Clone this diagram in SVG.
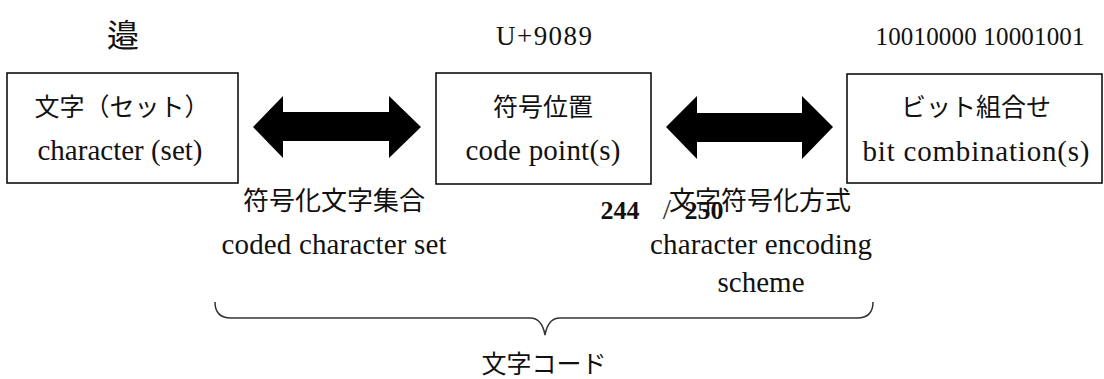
<svg xmlns="http://www.w3.org/2000/svg" width="1104" height="379" viewBox="0 0 1104 379">
<style>
.box{fill:#fff;stroke:#000;stroke-width:1.5}
.t{font-family:'Liberation Serif','Noto Sans CJK JP',serif;fill:#111;text-anchor:middle}
.j{font-size:25px}
.l{font-size:29px}
.arr{fill:#000}
.brace{fill:none;stroke:#333;stroke-width:1.5}
</style>
<rect width="1104" height="379" fill="#fff"/>
<g id="labels-top">
<text class="t" x="123" y="47" font-size="32">邉</text>
<text class="t" x="544" y="45" font-size="27" textLength="96">U+9089</text>
<text class="t" x="980" y="45" font-size="25" textLength="209">10010000 10001001</text>
</g>
<g id="node-character">
<rect class="box" x="7" y="73" width="231" height="110"/>
<text class="t j" x="122" y="116">文字（セット）</text>
<text class="t l" x="120" y="160" textLength="165">character (set)</text>
</g>
<g id="node-codepoint">
<rect class="box" x="436" y="73" width="215" height="111"/>
<text class="t j" x="543" y="116">符号位置</text>
<text class="t l" x="543" y="160" textLength="155">code point(s)</text>
</g>
<g id="node-bits">
<rect class="box" x="847" y="74" width="255" height="109"/>
<text class="t j" x="976" y="116">ビット組合せ</text>
<text class="t l" x="976" y="161" textLength="227">bit combination(s)</text>
</g>
<g id="connectors">
<polygon class="arr" points="253,127 283,96 283,112 389,112 389,96 421,127 389,158 389,141 283,141 283,158"/>
<polygon class="arr" points="666,127 697,96 697,113 802,113 802,96 833,127 802,159 802,142 697,142 697,159"/>
<path class="brace" d="M215,302 Q215,318 231,318 L530,318 Q542,318 545,335 Q548,318 560,318 L857,318 Q873,318 873,302"/>
</g>
<g id="label-ccs">
<text class="t" x="334" y="210" font-size="26">符号化文字集合</text>
<text class="t l" x="334" y="254" textLength="225">coded character set</text>
</g>
<g id="label-ces">
<text class="t" x="760" y="210" font-size="26">文字符号化方式</text>
<text class="t l" x="761" y="254" textLength="222">character encoding</text>
<text class="t l" x="761" y="292" textLength="87">scheme</text>
</g>
<g id="page-number">
<text class="t" y="219" font-size="26" font-weight="bold" fill="#000" text-anchor="start"><tspan x="620">244</tspan><tspan x="667" font-weight="normal" font-size="30" fill="#333">/</tspan><tspan x="704">250</tspan></text>
</g>
<g id="label-code">
<text class="t" x="544" y="373" font-size="25">文字コード</text>
</g>
</svg>
